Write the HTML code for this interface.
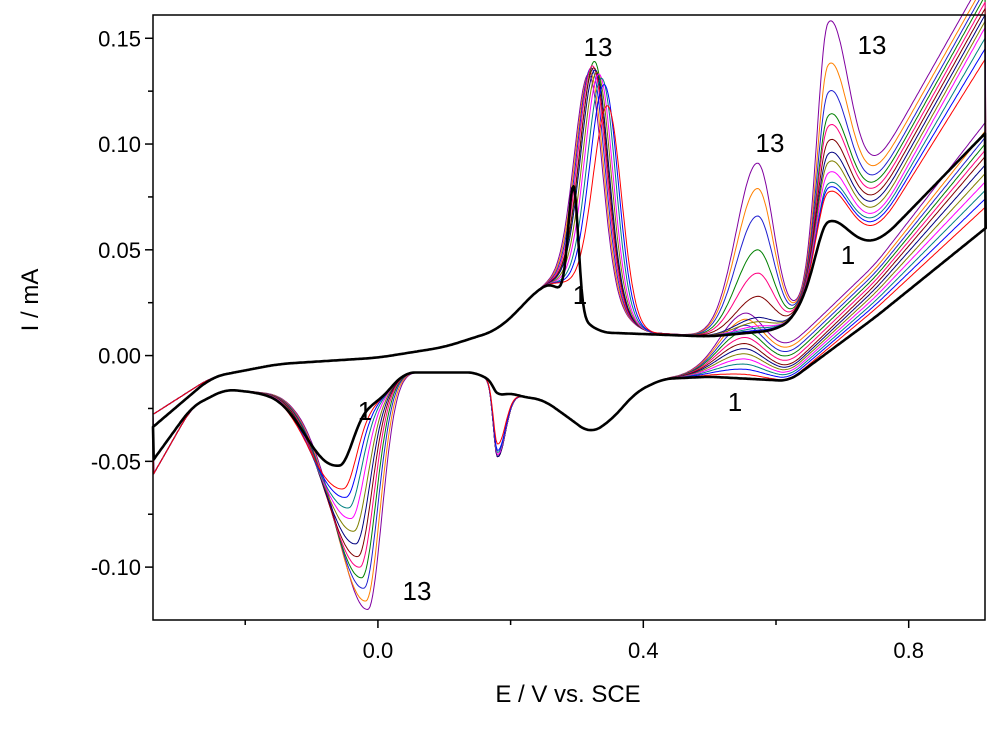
<!DOCTYPE html>
<html><head><meta charset="utf-8"><style>
body{margin:0;background:#fff}
svg text{font-family:"Liberation Sans",sans-serif}
</style></head><body>
<svg id="chart" width="1000" height="726" viewBox="0 0 1000 726" xmlns="http://www.w3.org/2000/svg">
<g id="plot"></g>
<g id="axes"></g>
</svg>
<script>
// ---- data (per cycle 1..13) ----
const cycles=[1,2,3,4,5,6,7,8,9,10,11,12,13];
const colors=["#000000","#ff0000","#0000ff","#008080","#ff00ff","#808000","#000080","#800000","#ff0080","#008000","#2020d0","#ff8000","#8000a0"];
// anodic peak near 0.3 V
const pA1Pos=[0.295,0.347,0.342,0.338,0.334,0.331,0.328,0.326,0.324,0.327,0.322,0.320,0.318];
const pA1Val=[0.080,0.118,0.128,0.131,0.133,0.134,0.135,0.136,0.137,0.139,0.136,0.134,0.133];
// anodic peak near 0.57 V (upper branch, absolute current at peak)
const pA2Val=[0.010,0.011,0.012,0.013,0.014,0.016,0.018,0.028,0.039,0.050,0.066,0.079,0.091];
// anodic peak near 0.68 V
const pA3Val=[0.063,0.077,0.079,0.081,0.086,0.091,0.095,0.101,0.108,0.113,0.124,0.137,0.157];
const dipVal=[0.055,0.062,0.064,0.066,0.068,0.071,0.074,0.077,0.080,0.083,0.086,0.090,0.094];
const upEnd=[0.105,0.140,0.145,0.150,0.155,0.158,0.161,0.164,0.167,0.170,0.173,0.176,0.180];
// cathodic peak near -0.05 V
const pCPos=[-0.058,-0.052,-0.048,-0.044,-0.040,-0.036,-0.033,-0.030,-0.027,-0.024,-0.021,-0.018,-0.015];
const pCVal=[-0.052,-0.063,-0.067,-0.072,-0.077,-0.083,-0.089,-0.095,-0.100,-0.105,-0.110,-0.116,-0.120];
// cathodic peak near 0.18 V
const pC2Val=[-0.016,-0.040,-0.043,-0.044,-0.045,-0.045,-0.046,-0.046,-0.046,-0.046,-0.046,-0.046,-0.046];
// lower branch
const lowMid=[-0.012,-0.012,-0.011,-0.010,-0.009,-0.008,-0.007,-0.006,-0.004,-0.002,0.000,0.002,0.004];
const lowBump=[0.000,0.002,0.004,0.006,0.008,0.010,0.012,0.014,0.016,0.018,0.020,0.022,0.024];
const lowEnd=[0.060,0.070,0.074,0.078,0.082,0.086,0.090,0.094,0.097,0.100,0.103,0.106,0.110];
const xTicks=[-0.2,0.0,0.2,0.4,0.6,0.8];
const xLabels=["","0.0","","0.4","","0.8"];
const yTicks=[-0.10,-0.05,0.00,0.05,0.10,0.15];
const yLabels=["-0.10","-0.05","0.00","0.05","0.10","0.15"];

const X0=153,X1=985,Y0=15,Y1=620,EMIN=-0.339,EMAX=0.915,IMIN=-0.125,IMAX=0.161;
const sx=e=>X0+(e-EMIN)/(EMAX-EMIN)*(X1-X0);
const sy=i=>Y1-(i-IMIN)/(IMAX-IMIN)*(Y1-Y0);
const NS="http://www.w3.org/2000/svg";
function lin(pts,e){if(e<=pts[0][0]){const t=(e-pts[0][0])/(pts[1][0]-pts[0][0]);return pts[0][1]+t*(pts[1][1]-pts[0][1]);}
  for(let j=0;j<pts.length-1;j++){if(e<=pts[j+1][0]){const t=(e-pts[j][0])/(pts[j+1][0]-pts[j][0]);return pts[j][1]+t*(pts[j+1][1]-pts[j][1]);}}
  const n=pts.length;const t=(e-pts[n-2][0])/(pts[n-1][0]-pts[n-2][0]);return pts[n-2][1]+t*(pts[n-1][1]-pts[n-2][1]);}
function smooth(pts,e,w){let s=0,n=0;for(let o=-w;o<=w+1e-9;o+=w/6){s+=lin(pts,e+o);n++;}return s/n;}
function ag(e,c,sl,sr){const s=e<c?sl:sr;return Math.exp(-0.5*((e-c)/s)**2);}
const plot=document.getElementById('plot');
for(let k=cycles.length-1;k>=0;k--){
  const first=k===0;
  const upBase=[[-0.34,first?-0.034:-0.028],[-0.25,-0.010],[-0.15,-0.004],[0,-0.001],[0.1,0.004],[0.18,0.012],[0.22,0.024],[0.245,0.033],[0.27,0.035],[first?0.30:0.33,first?0.02:0.03],[first?0.33:0.40,0.011],[0.5,0.009],[0.6,0.012],[0.63,0.018],[0.66,0.04],[0.76,dipVal[k]],[0.915,upEnd[k]]];
  const b3=smooth(upBase,0.678,0.02);
  const b1=smooth(upBase,pA1Pos[k],0.02);
  const b2=smooth(upBase,0.572,0.02);
  let d="";
  for(let e=-0.339;e<=0.916;e+=0.002){
    let i=smooth(upBase,e,0.02);
    i+=(pA1Val[k]-b1)*ag(e,pA1Pos[k],first?0.008:0.022,first?0.007:0.02);
    i+=Math.max(0,pA2Val[k]-b2)*ag(e,0.572,0.032,0.024);
    i+=(pA3Val[k]-b3)*ag(e,0.678,0.016,0.03);
    d+=(d?"L":"M")+sx(e).toFixed(1)+","+sy(i).toFixed(1);
  }
  const lowBase=[[-0.34,first?-0.050:-0.057],[-0.28,-0.024],[-0.23,-0.016],[-0.15,-0.018],[-0.09,-0.026],[0.0,-0.022],[0.04,-0.008],[0.15,-0.008],[0.17,-0.012],[0.21,-0.019],[0.25,-0.021],[0.29,-0.03],[0.32,-0.037],[0.35,-0.031],[0.39,-0.017],[0.43,-0.011],[0.5,-0.01],[0.62,lowMid[k]],[0.75,(lowMid[k]+lowEnd[k])*0.38],[0.915,lowEnd[k]]];
  const bc=smooth(lowBase,pCPos[k],0.015);
  for(let e=0.916;e>=-0.339;e-=0.002){
    let i=smooth(lowBase,e,0.015);
    i+=(pCVal[k]-bc)*ag(e,pCPos[k],0.045,0.02);
    i+=(pC2Val[k]+0.012)*ag(e,0.18,0.006,0.012);
    i+=lowBump[k]*ag(e,0.55,0.04,0.03);
    d+="L"+sx(e).toFixed(1)+","+sy(i).toFixed(1);
  }
  const p=document.createElementNS(NS,'path');
  p.setAttribute('d',d+"Z");p.setAttribute('fill','none');p.setAttribute('stroke',colors[k]);
  p.setAttribute('stroke-width',first?2.6:1);p.setAttribute('stroke-linejoin','round');
  
  
  plot.appendChild(p);
}
const axes=document.getElementById('axes');
function add(tag,attrs,txt){const el=document.createElementNS(NS,tag);for(const a in attrs)el.setAttribute(a,attrs[a]);if(txt!==undefined)el.textContent=txt;axes.appendChild(el);return el;}
const fr=add('rect',{x:X0,y:Y0,width:X1-X0,height:Y1-Y0,fill:'none',stroke:'#000','stroke-width':1.5});

xTicks.forEach((v,j)=>{const x=sx(v);const major=xLabels[j]!=="";
  const t=add('line',{x1:x,x2:x,y1:Y1,y2:Y1+(major?8:5),stroke:'#000','stroke-width':1.5});
  
  if(major){const l=add('text',{x:x,y:Y1+38,'font-size':22,'text-anchor':'middle'},xLabels[j]);
  }});
yTicks.forEach((v,j)=>{const y=sy(v);
  const t=add('line',{x1:X0-8,x2:X0,y1:y,y2:y,stroke:'#000','stroke-width':1.5});
  
  const m=add('line',{x1:X0-5,x2:X0,y1:sy(v+0.025),y2:sy(v+0.025),stroke:'#000','stroke-width':1.5});
  
  const l=add('text',{x:X0-12,y:y+8,'font-size':22,'text-anchor':'end'},yLabels[j]);
  });
const xt=add('text',{x:568,y:702,'font-size':24,'text-anchor':'middle'},'E / V vs. SCE');

const yt=add('text',{x:38,y:300,'font-size':24,'text-anchor':'middle',transform:'rotate(-90 38 300)'},'I / mA');

[[598,56,'13'],[770,152,'13'],[872,54,'13'],[417,600,'13'],[365,420,'1'],[580,304,'1'],[848,264,'1'],[735,411,'1']].forEach(a=>{
  const l=add('text',{x:a[0],y:a[1],'font-size':26,'text-anchor':'middle'},a[2]);
  });
</script>
</body></html>
